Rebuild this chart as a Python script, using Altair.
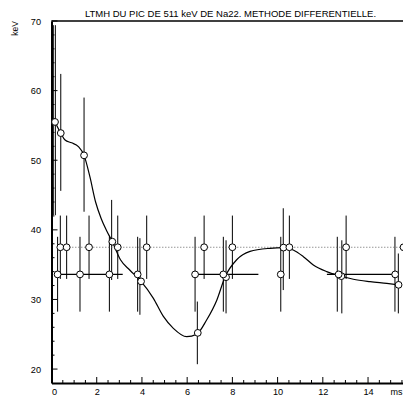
import altair as alt
import pandas as pd

TITLE = "LTMH DU PIC DE 511 keV DE Na22. METHODE DIFFERENTIELLE."
X_TITLE = "ms"
Y_TITLE = "keV"

# smooth fitted curve
fit_x = [0.155, 0.41, 0.60, 0.89, 1.19, 1.44, 1.70, 1.95, 2.20, 2.45, 2.69, 3.05, 3.47,
         3.96, 4.50, 4.94, 5.39, 5.98, 6.42, 6.86, 7.31, 7.67, 8.19, 8.78, 9.66, 10.25,
         10.69, 11.14, 11.58, 12.17, 12.75, 13.35, 14.09, 14.83, 15.35]
fit_y = [55.5, 53.9, 52.9, 52.5, 51.95, 50.7, 47.6, 44.0, 41.6, 39.8, 38.3, 35.7, 34.2,
         32.6, 30.2, 27.6, 25.85, 24.65, 25.0, 27.05, 29.9, 33.2, 35.7, 36.9, 37.35, 37.45,
         37.1, 36.15, 34.95, 34.0, 33.4, 32.9, 32.55, 32.3, 32.1]

# measured points lying on the curve
a_x = [0.155, 0.41, 1.44, 2.69, 3.96, 6.47, 7.72, 10.26, 12.82, 15.35]
a_y = [55.5, 53.9, 50.7, 38.3, 32.6, 25.2, 33.2, 37.45, 33.35, 32.1]

# points on the dotted reference level
b_x = [0.39, 0.67, 1.66, 2.93, 4.21, 6.75, 8.0, 10.52, 13.03, 15.57]
b_y = [37.5, 37.5, 37.5, 37.5, 37.5, 37.5, 37.5, 37.5, 37.5, 37.5]

# points on the solid horizontal level
c_x = [0.27, 1.26, 2.56, 3.81, 6.35, 7.6, 10.14, 12.70, 15.2]
c_y = [33.6, 33.6, 33.6, 33.6, 33.6, 33.6, 33.6, 33.6, 33.6]

# horizontal segments at the lower level
seg_x1 = [0.15, 6.35, 12.18]
seg_x2 = [3.15, 9.15, 15.2]
seg_y = [33.6, 33.6, 33.6]

# vertical error bars
bar_x = [0.02, 0.08, 0.17, 0.41, 1.44, 2.66, 3.91, 6.45, 7.72, 10.25, 12.84, 15.34,
         0.39, 0.67, 1.66, 2.93, 4.21, 6.75, 8.0, 10.52, 13.03, 15.57,
         0.27, 1.26, 2.56, 3.81, 6.35, 7.6, 10.14, 12.64, 15.19]
bar_lo = [28.3, 42.1, 42.1, 45.6, 42.6, 32.8, 27.8, 20.7, 28.0, 31.35, 28.0, 28.0,
          32.95, 32.95, 32.95, 32.95, 32.95, 32.95, 32.95, 32.95, 32.95, 32.95,
          28.25, 28.25, 28.25, 28.25, 28.25, 28.25, 28.25, 28.25, 28.25]
bar_hi = [39.0, 69.4, 69.4, 62.4, 59.0, 44.3, 38.8, 29.7, 38.5, 43.1, 38.5, 36.6,
          42.05, 42.05, 42.05, 42.05, 42.05, 42.05, 42.05, 42.05, 42.05, 42.05,
          39.0, 39.0, 39.0, 39.0, 39.0, 39.0, 39.0, 39.0, 39.0]

# axis ticks
x_major = [0, 2, 4, 6, 8, 10, 12, 14]
x_minor = [0.5, 1, 1.5, 2.5, 3, 3.5, 4.5, 5, 5.5, 6.5, 7, 7.5, 8.5, 9, 9.5, 10.5, 11,
           11.5, 12.5, 13, 13.5, 14.5, 15, 15.5]
y_major = [20, 30, 40, 50, 60, 70]
y_minor = [22, 24, 26, 28, 32, 34, 36, 38, 42, 44, 46, 48, 52, 54, 56, 58, 62, 64, 66, 68]

W = 351.5
H = 362
FONT = "Liberation Sans"

xs = alt.Scale(domain=[0, 15.546], nice=False, zero=False)
ys = alt.Scale(domain=[18, 70], nice=False, zero=False)

x_axis = alt.Axis(values=x_major, ticks=False, grid=False, labelPadding=4, title=None,
                  format="d")
y_axis = alt.Axis(values=y_major, ticks=False, grid=False, labelPadding=11, title=None,
                  format="d")


def X(field, **kw):
    return alt.X(field, scale=xs, axis=x_axis, **kw)


def Y(field, **kw):
    return alt.Y(field, scale=ys, axis=y_axis, **kw)


# ticks (inward)
xt_major = pd.DataFrame({"x": x_major})
xt_minor = pd.DataFrame({"x": x_minor})
yt_major = pd.DataFrame({"y": y_major})
yt_minor = pd.DataFrame({"y": y_minor})

xmajor_layer = alt.Chart(xt_major).mark_rule(color="black", strokeWidth=1).encode(
    x=X("x:Q"), y=alt.value(H), y2=alt.value(H - 6))
xminor_layer = alt.Chart(xt_minor).mark_rule(color="black", strokeWidth=1).encode(
    x=X("x:Q"), y=alt.value(H), y2=alt.value(H - 3))
ymajor_layer = alt.Chart(yt_major).mark_rule(color="black", strokeWidth=1).encode(
    y=Y("y:Q"), x=alt.value(0), x2=alt.value(6))
yminor_layer = alt.Chart(yt_minor).mark_rule(color="black", strokeWidth=1).encode(
    y=Y("y:Q"), x=alt.value(0), x2=alt.value(3))
top_frame = alt.Chart(pd.DataFrame({"y": [70]})).mark_rule(color="black", strokeWidth=1.3).encode(
    y=Y("y:Q"), x=alt.value(0), x2=alt.value(W))

bars_df = pd.DataFrame({"x": bar_x, "lo": bar_lo, "hi": bar_hi})
bars = alt.Chart(bars_df).mark_rule(color="black", strokeWidth=1).encode(
    x=X("x:Q"), y=Y("lo:Q"), y2="hi:Q")

seg_df = pd.DataFrame({"x1": seg_x1, "x2": seg_x2, "y": seg_y})
segs = alt.Chart(seg_df).mark_rule(color="black", strokeWidth=1.2).encode(
    x=X("x1:Q"), x2="x2:Q", y=Y("y:Q"))

b_df = pd.DataFrame({"x": b_x, "y": b_y})
dotted = alt.Chart(b_df).mark_line(color="#666666", strokeWidth=1, strokeDash=[1, 2]).encode(
    x=X("x:Q"), y=Y("y:Q"))

fit_df = pd.DataFrame({"x": fit_x, "y": fit_y})
curve = alt.Chart(fit_df).mark_line(color="black", strokeWidth=1.2, interpolate="monotone").encode(
    x=X("x:Q"), y=Y("y:Q"))

pts_df = pd.concat([
    pd.DataFrame({"x": a_x, "y": a_y}),
    b_df,
    pd.DataFrame({"x": c_x, "y": c_y}),
], ignore_index=True)
circles = alt.Chart(pts_df).mark_point(shape="circle", size=46, filled=True, fill="white",
                                       stroke="black", strokeWidth=1, opacity=1).encode(
    x=X("x:Q"), y=Y("y:Q"))

# chart title and axis titles as text
title_txt = alt.Chart(pd.DataFrame({"t": [TITLE]})).mark_text(
    font=FONT, fontSize=9.5, color="black", align="center", baseline="alphabetic"
).encode(text="t:N", x=alt.value(179), y=alt.value(-4))
ytitle_txt = alt.Chart(pd.DataFrame({"t": [Y_TITLE]})).mark_text(
    font=FONT, fontSize=8.5, color="black", align="right", baseline="middle", angle=270
).encode(text="t:N", x=alt.value(-36.5), y=alt.value(0))
xtitle_txt = alt.Chart(pd.DataFrame({"t": [X_TITLE]})).mark_text(
    font=FONT, fontSize=9, color="black", align="left", baseline="middle"
).encode(text="t:N", x=alt.value(339), y=alt.value(H + 8.5))

chart = alt.layer(
    xmajor_layer, xminor_layer, ymajor_layer, yminor_layer, top_frame,
    bars, segs, dotted, curve, circles, title_txt, ytitle_txt, xtitle_txt
).properties(
    width=W, height=H,
    autosize=alt.AutoSizeParams(type="none"),
    padding={"left": 43.5, "top": 13, "right": 0, "bottom": 13},
    background="white",
).configure_view(stroke=None).configure_axis(
    domainWidth=2, domainColor="black", tickSize=0,
    labelFont=FONT, labelFontSize=9.2, labelColor="black",
)

chart.save("out.html", embed_options={"renderer": "svg", "actions": False})
